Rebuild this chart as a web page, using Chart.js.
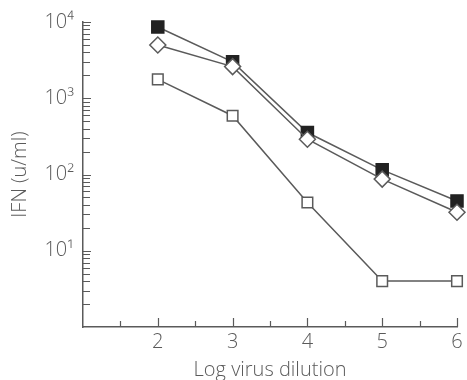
<!DOCTYPE html>
<html>
<head>
<meta charset="utf-8">
<script src="https://cdn.jsdelivr.net/npm/chart.js@4"></script>
<style>
  body { margin: 0; background: #fff; }
</style>
</head>
<body>
<canvas id="ifnChart" width="467" height="380"></canvas>
<script>
// data
const dilutions = [2, 3, 4, 5, 6];
const filledSquares = [8600, 3000, 355, 115, 45];
const openDiamonds = [5000, 2600, 290, 87, 32];
const openSquares = [1770, 590, 43, 4, 4];
const xLabelTicks = [2, 3, 4, 5, 6];
const yLabelTicks = [10, 100, 1000, 10000];
const sup = { 1: "¹", 2: "²", 3: "³", 4: "⁴" };

const ink = "#5a5a5a";
const font = { family: "'Open Sans', 'DejaVu Sans', sans-serif", size: 20, weight: 300 };

// inward tick marks, placed with the chart's own scales
const tickMarks = {
    id: "tickMarks",
    beforeDatasetsDraw(chart) {
        const { ctx, chartArea: a, scales: { x, y } } = chart;
        ctx.save();
        ctx.strokeStyle = ink;
        ctx.lineWidth = 1.2;
        ctx.beginPath();
        for (let v = 1.5; v <= 6; v += 0.5) {
            const px = Math.round(x.getPixelForValue(v)) + 0.5;
            const len = Number.isInteger(v) ? 9 : 6;
            ctx.moveTo(px, a.bottom);
            ctx.lineTo(px, a.bottom - len);
        }
        for (let e = 0; e <= 4; e++) {
            for (let m = 1; m <= 9; m++) {
                const v = m * Math.pow(10, e);
                if (v === 1 || v > 10000) continue;
                const py = Math.round(y.getPixelForValue(v)) + 0.5;
                ctx.moveTo(a.left, py);
                ctx.lineTo(a.left + (m === 1 ? 8 : 7), py);
            }
        }
        ctx.stroke();
        ctx.restore();
    }
};

const line = (data, style, fill, radius, order) => ({
    data: dilutions.map((d, i) => ({ x: d, y: data[i] })),
    borderColor: ink,
    borderWidth: 1.5,
    pointStyle: style,
    pointRadius: radius,
    pointBackgroundColor: fill,
    pointBorderColor: fill === "#fff" ? ink : "#222",
    pointBorderWidth: 1.5,
    clip: false,
    order: order
});

new Chart(document.getElementById("ifnChart"), {
    type: "line",
    data: {
        datasets: [
            line(openDiamonds, "rectRot", "#fff", 8, 0),
            line(filledSquares, "rect", "#222", 8.5, 1),
            line(openSquares, "rect", "#fff", 7.5, 2)
        ]
    },
    options: {
        responsive: false,
        animation: false,
        layout: { padding: { top: 22, right: 10, left: 0, bottom: 0 } },
        plugins: { legend: { display: false }, tooltip: { enabled: false } },
        scales: {
            x: {
                type: "linear",
                min: 1, max: 6,
                afterBuildTicks: s => { s.ticks = xLabelTicks.map(v => ({ value: v })); },
                afterFit: s => { s.height = 53; },
                grid: { display: false, drawTicks: false },
                border: { display: true, color: ink, width: 1.5 },
                ticks: { color: ink, font: font, padding: 3, autoSkip: false, maxRotation: 0 },
                title: { display: true, text: "Log virus dilution", color: ink, font: font, padding: { top: 0, bottom: -2 } }
            },
            y: {
                type: "logarithmic",
                min: 1, max: 10000,
                afterBuildTicks: s => { s.ticks = yLabelTicks.map(v => ({ value: v })); },
                afterFit: s => { s.width = 83; },
                grid: { display: false, drawTicks: false },
                border: { display: true, color: ink, width: 1.5 },
                ticks: {
                    color: ink, font: font, padding: 9, autoSkip: false,
                    callback: v => "10" + sup[Math.round(Math.log10(v))]
                },
                title: { display: true, text: "IFN (u/ml)", color: ink, font: font, padding: { top: 8, bottom: 0 } }
            }
        }
    },
    plugins: [tickMarks]
});
</script>
</body>
</html>
